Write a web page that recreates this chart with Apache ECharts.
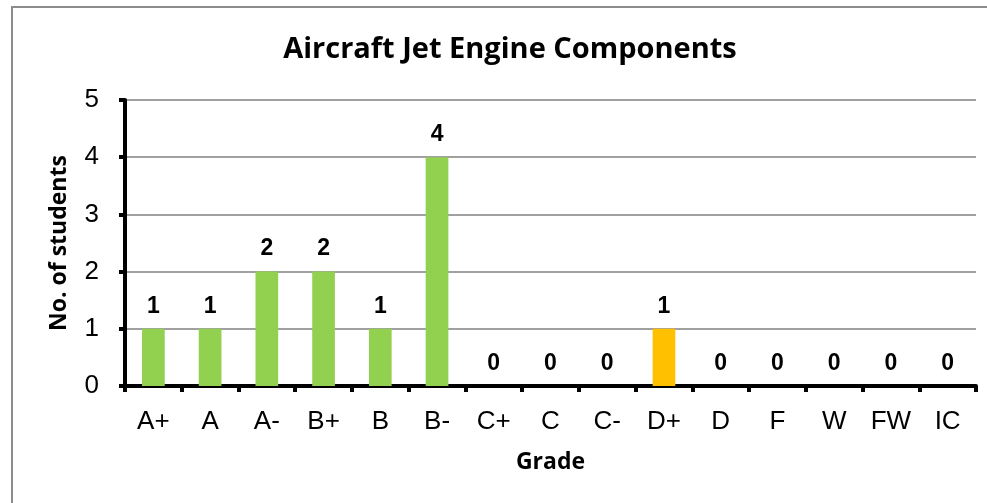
<!DOCTYPE html>
<html>
<head>
<meta charset="utf-8">
<script src="https://cdn.jsdelivr.net/npm/echarts@6/dist/echarts.min.js"></script>
<style>
  html, body { margin: 0; padding: 0; background: #fff; }
  #chart { width: 987px; height: 503px; }
</style>
</head>
<body>
<div id="chart"></div>
<script>
const grades = ['A+', 'A', 'A-', 'B+', 'B', 'B-', 'C+', 'C', 'C-', 'D+', 'D', 'F', 'W', 'FW', 'IC']
const students = [1, 1, 2, 2, 1, 4, 0, 0, 0, 1, 0, 0, 0, 0, 0]
const highlightGrade = 'D+'
const yTicks = [0, 1, 2, 3, 4, 5]

const green = '#92D050'
const orange = '#FFC000'

const chart = echarts.init(document.getElementById('chart'))

const option = {
  backgroundColor: '#fff',
  animation: false,
  graphic: [
    {
      type: 'rect',
      shape: { x: 12, y: 7, width: 1000, height: 520 },
      style: { fill: 'none', stroke: '#8c8c8c', lineWidth: 2 },
    },
  ],
  title: {
    text: 'Aircraft Jet Engine Components',
    left: 505,
    top: 30,
    textAlign: 'center',
    textStyle: { fontFamily: 'Open Sans', fontWeight: 'bold', fontSize: 29, color: '#000' },
  },
  grid: { left: 125, right: 11, top: 100, bottom: 117 },
  xAxis: {
    type: 'category',
    data: grades,
    name: 'Grade',
    nameLocation: 'middle',
    nameGap: 65,
    nameTextStyle: { fontFamily: 'Open Sans', fontWeight: 'bold', fontSize: 23, color: '#000' },
    axisLine: { lineStyle: { color: '#000', width: 4 } },
    axisTick: { show: true, length: 6, lineStyle: { color: '#000', width: 4 } },
    axisLabel: { fontFamily: 'Liberation Sans', fontSize: 26, color: '#000', margin: 23 },
  },
  yAxis: {
    type: 'value',
    min: yTicks[0],
    max: yTicks[yTicks.length - 1],
    interval: 1,
    name: 'No. of students',
    nameLocation: 'middle',
    nameGap: 54,
    nameTextStyle: { fontFamily: 'Open Sans', fontWeight: 'bold', fontSize: 23, color: '#000' },
    axisLine: { show: true, lineStyle: { color: '#000', width: 4 } },
    axisTick: { show: true, length: 6, lineStyle: { color: '#000', width: 4 } },
    axisLabel: { fontFamily: 'Liberation Sans', fontSize: 26, color: '#000', margin: 26 },
    splitLine: { lineStyle: { color: '#a0a0a0', width: 2 } },
  },
  series: [
    {
      type: 'bar',
      barWidth: '40%',
      data: students.map((v, i) => ({
        value: v,
        itemStyle: { color: grades[i] === highlightGrade ? orange : green },
      })),
      label: {
        show: true,
        position: 'top',
        distance: 11,
        fontFamily: 'Liberation Sans',
        fontWeight: 'bold',
        fontSize: 23,
        color: '#000',
      },
    },
  ],
}

chart.setOption(option)
</script>
</body>
</html>
